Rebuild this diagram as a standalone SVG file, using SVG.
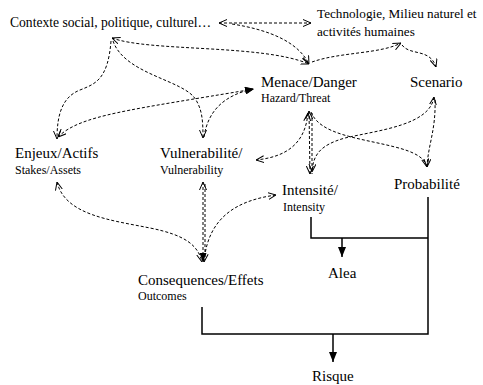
<svg xmlns="http://www.w3.org/2000/svg" width="483" height="385" viewBox="0 0 483 385">
<defs>
<style>
.t{font-family:"Liberation Serif","Times New Roman",serif;fill:#000}
.b{font-size:15px}
.sm{font-size:12px}
.d{fill:none;stroke:#000;stroke-width:1;stroke-dasharray:3 2}
.s{fill:none;stroke:#000;stroke-width:1.5}
</style>
<marker id="v" viewBox="0 0 8 8" refX="8" refY="4" markerWidth="8" markerHeight="8" markerUnits="userSpaceOnUse" orient="auto-start-reverse">
<path d="M0,0.5 L8,4 L0,7.5" fill="none" stroke="#000" stroke-width="1"/>
</marker>
<marker id="vf" viewBox="0 0 9 8" refX="9" refY="4" markerWidth="9" markerHeight="8" markerUnits="userSpaceOnUse" orient="auto-start-reverse">
<path d="M0,0.5 L9,4 L0,7.5 z" fill="#000"/>
</marker>
<marker id="f" viewBox="0 0 10 8" refX="10" refY="4" markerWidth="10" markerHeight="8" markerUnits="userSpaceOnUse" orient="auto">
<path d="M0,0 L10,4 L0,8 z" fill="#000"/>
</marker>
</defs>
<rect width="483" height="385" fill="#fff"/>

<g id="connectors">
<!-- dashed -->
<path class="d" d="M219 23 L311 23" marker-start="url(#v)" marker-end="url(#v)"/>
<path class="d" d="M232 24 C270 30 298 42 309 64" marker-end="url(#v)"/>
<path class="d" d="M112 38 C150 52 262 44 309 64" marker-start="url(#v)" marker-end="url(#v)"/>
<path class="d" d="M312 62 C340 52 380 54 401 43" marker-end="url(#v)"/>
<path class="d" d="M402 45 C410 56 430 48 436 67" marker-end="url(#v)"/>
<path class="d" d="M111 41 C108 80 95 84 80 90 C62 97 57 115 57 139" marker-end="url(#v)"/>
<path class="d" d="M113 41 C125 75 185 80 196 100 C202 110 203 120 203 138" marker-end="url(#v)"/>
<path class="d" d="M58 137 C80 115 130 110 254 89" marker-start="url(#v)" marker-end="url(#vf)"/>
<path class="d" d="M204 137 C208 110 225 95 253 89" marker-end="url(#v)"/>
<path class="d" d="M308 113 C305 145 285 157 256 160" marker-start="url(#v)" marker-end="url(#v)"/>
<path class="d" d="M309 111 L310 174" marker-start="url(#v)" marker-end="url(#v)"/>
<path class="d" d="M312 113 L312 174"/>
<path class="d" d="M311 112 C320 135 360 138 395 147 C415 152 425 158 427 167" marker-end="url(#v)"/>
<path class="d" d="M434 97 C430 125 380 130 345 138 C320 145 313 155 312 172" marker-start="url(#v)" marker-end="url(#v)"/>
<path class="d" d="M435 100 C436 130 428 145 427 167" marker-end="url(#v)"/>
<path class="d" d="M57 182 C65 215 110 220 150 228 C185 235 198 245 202 262" marker-start="url(#v)" marker-end="url(#v)"/>
<path class="d" d="M203 182 L203 262" marker-start="url(#v)" marker-end="url(#vf)"/>
<path class="d" d="M205 184 L205 258"/>
<path class="d" d="M204 262 C208 215 240 200 276 195" marker-start="url(#v)" marker-end="url(#v)"/>
<!-- solid -->
<path class="s" d="M311 217 L311 238 L428 238"/>
<path class="s" d="M342 238 L342 257" marker-end="url(#f)"/>
<path class="s" d="M428 197 L428 334 L333 334"/>
<path class="s" d="M202 307 L202 334 L333 334"/>
<path class="s" d="M333 334 L333 362" marker-end="url(#f)"/>
</g>

<g id="contexte"><text class="t" x="10" y="27" font-size="13.6">Contexte social, politique, culturel…</text></g>
<g id="technologie"><text class="t" font-size="13.2"><tspan x="317" y="18">Technologie, Milieu naturel et</tspan><tspan x="317" y="36">activités humaines</tspan></text></g>
<g id="menace"><text class="t b" x="261" y="87">Menace/Danger</text><text class="t sm" x="261" y="102">Hazard/Threat</text></g>
<g id="scenario"><text class="t b" x="410" y="87">Scenario</text></g>
<g id="enjeux"><text class="t b" x="15" y="158">Enjeux/Actifs</text><text class="t sm" x="15" y="174">Stakes/Assets</text></g>
<g id="vulnerabilite"><text class="t b" x="160" y="158">Vulnerabilité/</text><text class="t sm" x="160" y="174">Vulnerability</text></g>
<g id="intensite"><text class="t b" x="282" y="195">Intensité/</text><text class="t sm" x="283" y="211">Intensity</text></g>
<g id="probabilite"><text class="t b" x="394" y="189">Probabilité</text></g>
<g id="alea"><text class="t b" x="328" y="278">Alea</text></g>
<g id="consequences"><text class="t b" x="138" y="285">Consequences/Effets</text><text class="t sm" x="138" y="300">Outcomes</text></g>
<g id="risque"><text class="t b" x="312" y="381">Risque</text></g>
</svg>
